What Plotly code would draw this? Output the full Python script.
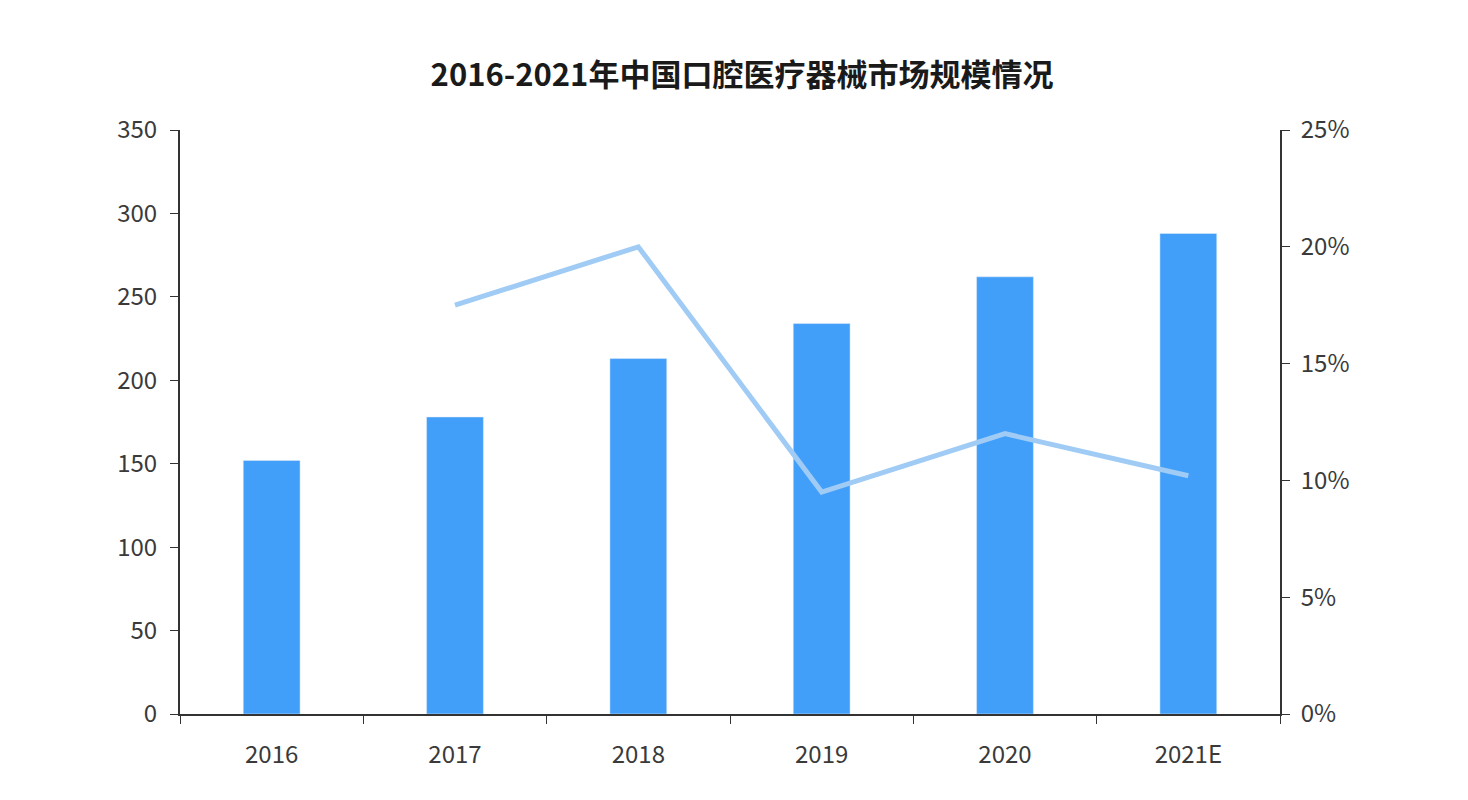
import plotly.graph_objects as go

years = ['2016', '2017', '2018', '2019', '2020', '2021E']
market_size = [152, 178, 213, 234, 262, 288]
growth_years = ['2017', '2018', '2019', '2020', '2021E']
growth_rate = [0.175, 0.20, 0.095, 0.12, 0.102]

fig = go.Figure()
fig.add_trace(go.Bar(x=years, y=market_size, marker_color='#419ffa', width=0.31, name='市场规模'))
fig.add_trace(go.Scatter(x=growth_years, y=growth_rate, yaxis='y2', mode='lines',
                         line=dict(color='#9fcbf5', width=5), name='增速'))

font = dict(family='Noto Sans CJK SC', size=24, color='#3a3a3a')
fig.update_layout(
    width=1468, height=800, plot_bgcolor='white', paper_bgcolor='white',
    showlegend=False, font=font, bargap=0.69,
    margin=dict(l=172, r=196, t=122, b=94),
    title=dict(text='<b>2016-2021年中国口腔医疗器械市场规模情况</b>', x=0.5, y=0.93,
               xanchor='center', font=dict(size=31, color='#1a1a1a', family='Noto Sans CJK SC')),
    xaxis=dict(showline=True, linecolor='#333333', linewidth=2, ticks='outside',
               tickson='boundaries', ticklen=8, tickcolor='#333333', ticklabelstandoff=18),
    yaxis=dict(range=[0, 350], dtick=50, showgrid=False, showline=True, linecolor='#333333',
               linewidth=2, ticks='outside', ticklen=8, tickcolor='#333333', zeroline=False,
               ticklabelstandoff=8),
    yaxis2=dict(range=[0, 0.25], dtick=0.05, tickformat='.0%', overlaying='y', side='right',
                showgrid=False, showline=True, linecolor='#333333', linewidth=2,
                ticks='outside', ticklen=8, tickcolor='#333333', zeroline=False,
                ticklabelstandoff=6),
)
fig.write_html('out.html')
